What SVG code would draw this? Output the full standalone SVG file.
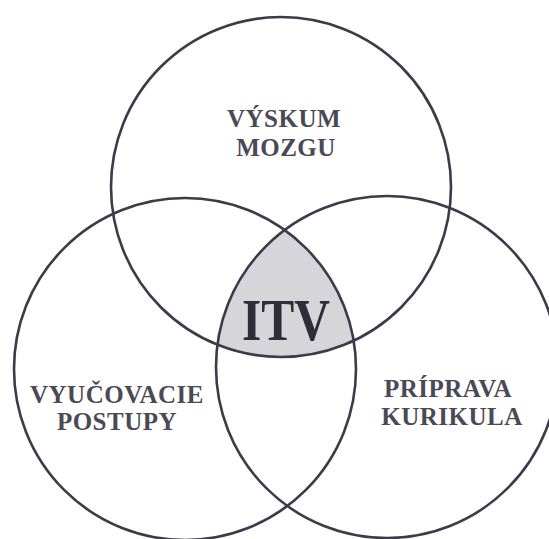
<svg xmlns="http://www.w3.org/2000/svg" width="549" height="539" viewBox="0 0 549 539">
<style>
.c{fill:none;stroke:#3c3b4a;stroke-width:2.6}
.t{font-family:"Liberation Serif","Times New Roman",serif;font-weight:bold;font-size:25px;fill:#4a4955;text-anchor:middle;letter-spacing:0.5px}
.itv{font-family:"Liberation Serif","Times New Roman",serif;font-weight:bold;font-size:60px;fill:#2e2d38;text-anchor:middle}
</style>
<defs>
<clipPath id="cl"><circle cx="185" cy="369" r="171"/></clipPath>
<clipPath id="cr"><circle cx="387" cy="367" r="171"/></clipPath>
</defs>
<rect width="549" height="539" fill="#ffffff"/>
<g id="itv-region">
<g clip-path="url(#cl)"><g clip-path="url(#cr)"><circle cx="281" cy="187" r="170" fill="#d6d6da"/></g></g>
</g>
<g id="connectors">
<circle id="top" class="c" cx="281" cy="187" r="170"/>
<circle id="left" class="c" cx="185" cy="369" r="171"/>
<circle id="right" class="c" cx="387" cy="367" r="171"/>
</g>
<g id="vyskum"><text class="t" x="284" y="127">VÝSKUM</text><text class="t" x="286" y="156">MOZGU</text></g>
<g id="vyucovacie"><text class="t" x="117" y="403">VYUČOVACIE</text><text class="t" x="117" y="430">POSTUPY</text></g>
<g id="priprava"><text class="t" x="448" y="397">PRÍPRAVA</text><text class="t" x="452" y="425">KURIKULA</text></g>
<g id="itv"><text class="itv" x="286" y="340" textLength="88" lengthAdjust="spacingAndGlyphs">ITV</text></g>
</svg>
